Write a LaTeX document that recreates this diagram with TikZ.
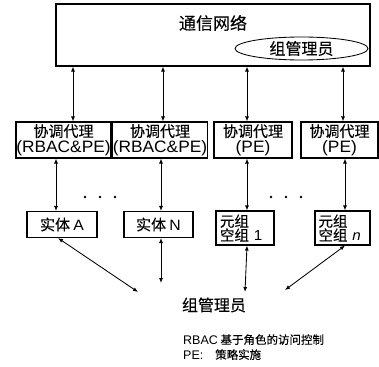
\documentclass[tikz,border=0pt]{standalone}
\usepackage{fontspec}
\setmainfont{Noto Sans CJK SC}[FakeBold=0.15]
\newfontfamily\lat[FakeStretch=1.05]{Liberation Sans}
\newfontfamily\latn{Liberation Sans}
\usetikzlibrary{arrows.meta,shapes.geometric}
\tikzset{
  box/.style={draw, line width=1.1pt, inner sep=0pt, align=center},
  dbl/.style={line width=0.85pt, {Latex[length=5pt,width=4pt]}-{Latex[length=5pt,width=4pt]}},
  txt/.style={inner sep=0pt},
  agent/.style={box, minimum height=36pt, font=\fontsize{15}{15.5}\selectfont},
  ent/.style={box, minimum height=26pt, font=\fontsize{15}{15}\selectfont},
  grp/.style={box, minimum height=34pt, align=left, font=\fontsize{14.5}{14}\selectfont},
  dotn/.style={circle, fill, inner sep=0pt, minimum size=2.6pt},
  legend/.style={anchor=base west, inner sep=0pt, font=\fontsize{11.5}{14}\selectfont},
}
\begin{document}
\begin{tikzpicture}[x=1pt,y=-1pt]
\useasboundingbox (0,0) rectangle (379,366);
% top network box
\node[box, minimum width=314pt, minimum height=62pt] (net) at (213,35) {};
\node[txt, font=\fontsize{17}{17}\selectfont] (netl) at (213,23) {通信网络};
\node[txt, font=\fontsize{16}{16}\selectfont] (gm1) at (301.5,48.5) {组管理员};
\draw[line width=0.85pt] (gm1.center) ellipse [x radius=66.5pt, y radius=11.5pt];
% agents
\node[agent, minimum width=95pt] (a1) at (63.5,140) {协调代理\\{\lat\fontsize{16.5}{15}\selectfont (RBAC\&PE)}};
\node[agent, minimum width=92pt] (a2) at (160,140) {协调代理\\{\lat\fontsize{16.5}{15}\selectfont (RBAC\&PE)}};
\node[agent, minimum width=78pt] (a3) at (253,140) {协调代理\\{\lat\fontsize{16.5}{15}\selectfont (PE)}};
\node[agent, minimum width=77pt] (a4) at (339.5,140) {协调代理\\{\lat\fontsize{16.5}{15}\selectfont (PE)}};
% entities
\node[ent, minimum width=70pt] (eA) at (62,224.5) {实体 {\lat A}};
\node[ent, minimum width=69pt] (eN) at (158.5,224.5) {实体 {\lat N}};
\node[grp, minimum width=58pt, text width=50pt] (g1) at (245,228) {元组\\空组 {\lat 1}};
\node[grp, minimum width=55pt, text width=48pt] (gn) at (342.5,228) {元组\\空组 {\lat\itshape n}};
% dots
\node[dotn] (d1) at (85,197) {};
\node[dotn] (d2) at (100,197) {};
\node[dotn] (d3) at (115,197) {};
\node[dotn] (d4) at (271,197) {};
\node[dotn] (d5) at (286,197) {};
\node[dotn] (d6) at (301,197) {};
% column coordinates
\coordinate (t1) at (73,0);
\coordinate (t2) at (163,0);
\coordinate (t3) at (247,0);
\coordinate (t4) at (343,0);
\coordinate (b1) at (56,0);
\coordinate (b2) at (161,0);
\coordinate (b3) at (247,0);
\coordinate (b4) at (345,0);
% top arrows
\draw[dbl] (t1 |- net.south) -- (t1 |- a1.north);
\draw[dbl] (t2 |- net.south) -- (t2 |- a2.north);
\draw[dbl] (t3 |- net.south) -- (t3 |- a3.north);
\draw[dbl] (t4 |- net.south) -- (t4 |- a4.north);
% middle arrows
\draw[dbl] (b1 |- a1.south) -- (b1 |- eA.north);
\draw[dbl] (b2 |- a2.south) -- (b2 |- eN.north);
\draw[dbl] (b3 |- a3.south) -- (b3 |- g1.north);
\draw[dbl] (b4 |- a4.south) -- (b4 |- gn.north);
% bottom group manager
\node[txt, font=\fontsize{16}{16}\selectfont] (gm2) at (214,305) {组管理员};
\coordinate (eA0) at (58,0);
\coordinate (fA) at (138,292);
\coordinate (fN) at (161,283);
\coordinate (f1) at (245,292);
\coordinate (fn) at (285,290);
\coordinate (gn0) at (345,0);
\draw[dbl] (eA0 |- eA.south) -- (fA);
\draw[dbl] (b2 |- eN.south) -- (fN);
\draw[dbl] (b3 |- g1.south) -- (f1);
\draw[dbl] (gn0 |- gn.south) -- (fn);
% legend
\node[legend] (lg1) at (183,344) {{\latn\fontsize{12.5}{14}\selectfont RBAC} 基于角色的访问控制};
\node[legend] (lg2) at (183,359) {{\latn\fontsize{12.5}{14}\selectfont PE:}};
\node[legend] (lg3) at (215,359) {策略实施};
\end{tikzpicture}
\end{document}
